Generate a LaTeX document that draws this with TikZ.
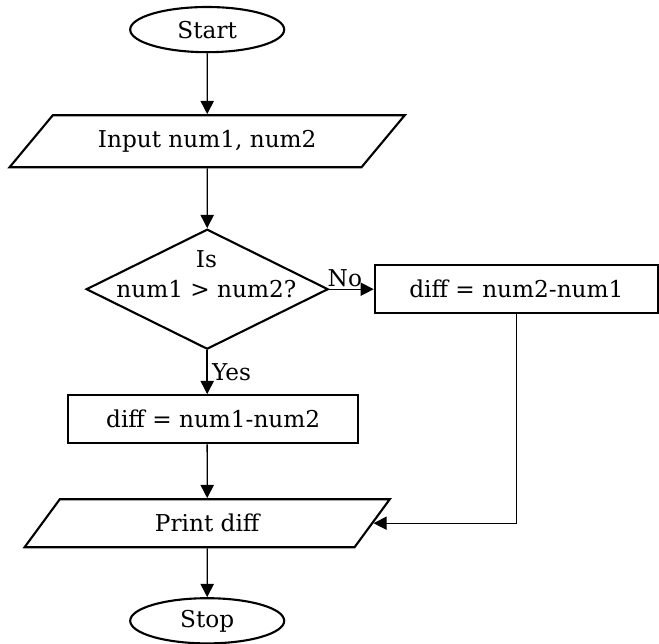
\documentclass[tikz,border=0pt]{standalone}
\usepackage{fontspec}
\setmainfont{DejaVu Serif}
\usetikzlibrary{shapes.geometric, arrows.meta}

\tikzset{
	terminal/.style={ellipse, draw, line width=1.5pt, minimum width=3.85cm, minimum height=1.13cm, inner sep=0pt},
	inout/.style={trapezium, trapezium left angle=27, trapezium right angle=153, trapezium stretches body, draw, line width=1.5pt, inner sep=0pt},
	process/.style={rectangle, draw, line width=1.5pt, minimum height=1.2cm, inner sep=0pt},
	decision/.style={diamond, draw, line width=1.5pt, minimum width=6.05cm, minimum height=3cm, inner sep=0pt},
	flow/.style={-{Triangle[length=0.33cm, width=0.33cm]}, line width=1pt},
}

\begin{document}
\begin{tikzpicture}[font=\fontsize{16.5}{21}\selectfont]
		
		\useasboundingbox (0,0) rectangle (16.475,-16.1);
		
		% Draw Shape
		\node[terminal] (start) at (5.18, -0.74) {Start};
		\node[inout, minimum width=9.88cm, minimum height=1.3cm] (input) at (5.18, -3.53) {Input num1, num2};
		\node[decision] (cmp) at (5.18, -7.23) {};
		\node[process, minimum width=7.08cm] (diffb) at (12.91, -7.23) {diff = num2-num1};
		\node[process, minimum width=7.25cm] (diffa) at (5.33, -10.48) {diff = num1-num2};
		\node[inout, minimum width=9.13cm, minimum height=1.2cm] (print) at (5.18, -13.08) {Print diff};
		\node[terminal] (stop) at (5.18, -15.52) {Stop};
		
		% Labels
		\node[align=center] (cmptext) at (5.16, -6.85) {Is\\num1 > num2?};
		
		% Arrows
		\draw[flow] (start) -- (input);
		\draw[flow] (input) -- (cmp);
		\draw[flow] (cmp) -- node[above, pos=0.35, inner sep=1pt] {No} (diffb);
		\draw[flow] (cmp) -- node[right, inner sep=3pt] {Yes} (cmp |- diffa.north);
		\draw[flow] (print |- diffa.south) -- (print);
		\draw[flow] (diffb) |- (print);
		\draw[flow] (print) -- (stop);
		
\end{tikzpicture}
\end{document}
